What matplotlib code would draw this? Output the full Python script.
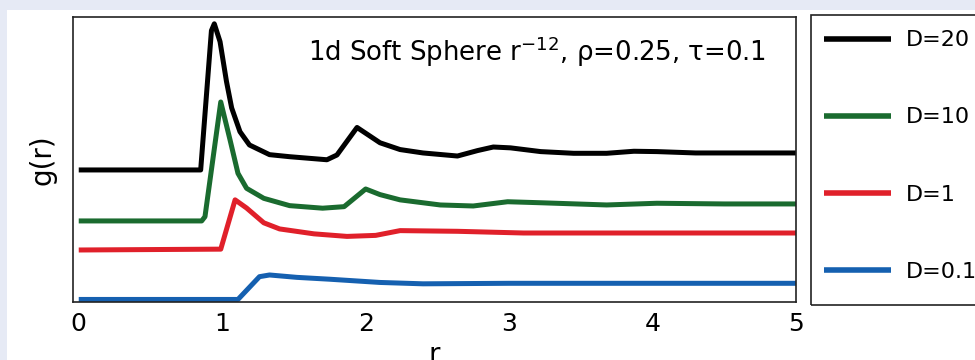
import matplotlib
matplotlib.use("Agg")
import matplotlib.pyplot as plt
import numpy as np

# ---- data ----
labels = ["D=20", "D=10", "D=1", "D=0.1"]
colors = ["#000000", "#1a6b2f", "#e0202a", "#1560b0"]
offsets = [7.62, 4.62, 2.91, 0.0]

black_r = [0, 0.85, 0.925, 0.945, 0.985, 1.03, 1.066, 1.124, 1.19, 1.33, 1.47, 1.73, 1.80, 1.94,
           2.10, 2.24, 2.40, 2.64, 2.78, 2.89, 3.01, 3.22, 3.45, 3.68, 3.87, 4.03, 4.3, 4.6, 5.0]
black_g = [0, 0, 8.2, 8.6, 7.55, 5.2, 3.65, 2.25, 1.47, 0.9, 0.78, 0.6, 0.88, 2.5,
           1.6, 1.2, 1.0, 0.82, 1.14, 1.35, 1.3, 1.08, 0.98, 0.98, 1.1, 1.08, 1.0, 1.0, 1.0]

green_r = [0, 0.857, 0.88, 0.99, 1.055, 1.11, 1.17, 1.29, 1.47, 1.70, 1.85, 2.00, 2.10,
           2.24, 2.52, 2.75, 2.99, 3.22, 3.68, 4.03, 4.5, 5.0]
green_g = [0, 0, 0.25, 7.0, 4.76, 2.8, 1.92, 1.33, 0.9, 0.75, 0.84, 1.88, 1.55,
           1.24, 0.94, 0.88, 1.13, 1.07, 0.94, 1.04, 1.0, 1.0]

red_r = [0, 0.99, 1.09, 1.17, 1.29, 1.40, 1.64, 1.87, 2.07, 2.24, 2.64, 3.10, 4.0, 5.0]
red_g = [0, 0.05, 2.95, 2.47, 1.6, 1.24, 0.95, 0.8, 0.86, 1.14, 1.1, 1.0, 1.0, 1.0]

blue_r = [0, 1.11, 1.26, 1.33, 1.52, 1.75, 2.10, 2.40, 3.0, 4.0, 5.0]
blue_g = [0, 0, 1.34, 1.44, 1.3, 1.19, 1.0, 0.92, 0.95, 0.95, 0.95]

series_r = [black_r, green_r, red_r, blue_r]
series_g = [black_g, green_g, red_g, blue_g]

xticks = [0, 1, 2, 3, 4, 5]
title = "1d Soft Sphere r$^{\\mathregular{-12}}$, ρ=0.25, τ=0.1"

# ---- figure ----
W, H = 975, 360
fig = plt.figure(figsize=(W / 100, H / 100), dpi=100)
fig.patch.set_facecolor("#e6eaf5")
fig.add_artist(plt.Rectangle((7 / W, 0), 1, 1 - 10 / H, transform=fig.transFigure,
                             facecolor="white", edgecolor="none", zorder=0))

ax = fig.add_axes([73 / W, 1 - 302 / H, (796 - 73) / W, (302 - 17) / H])
ax.set_facecolor("white")

lines = []
for r, g, off, c, lab in zip(series_r, series_g, offsets, colors, labels):
    ln, = ax.plot(r, np.array(g) + off, color=c, lw=3.6, label=lab,
                  solid_joinstyle="round", solid_capstyle="butt")
    lines.append(ln)

ax.set_xlim(-0.04, 5.0)
ax.set_ylim(-0.15, 16.62)
ax.set_xticks(xticks)
ax.set_xticklabels([str(t) for t in xticks])
ax.set_yticks([])
ax.tick_params(axis="x", length=0, pad=7, labelsize=18)
for s in ax.spines.values():
    s.set_linewidth(1.2)
    s.set_color("#222222")

ax.set_ylabel("g(r)", fontsize=20, labelpad=12)
ax.set_xlabel("r", fontsize=20, labelpad=4)

ax.text((308 - 73) / (796 - 73), (302 - 52) / (302 - 17), title, transform=ax.transAxes,
        ha="left", va="center", fontsize=18.7)

# legend (frame drawn separately so it can run past the right edge like the reference)
leg = fig.legend(handles=lines, labels=labels, loc="upper left",
                 bbox_to_anchor=(811 / W, 1 - 17 / H), fontsize=16,
                 frameon=False, handlelength=3.0, handletextpad=0.65,
                 labelspacing=2.57, borderpad=0.6, borderaxespad=0)
for lh in leg.get_lines():
    lh.set_linewidth(4)
fig.add_artist(plt.Rectangle((811 / W, 1 - 305 / H), 180 / W, 290 / H,
                             transform=fig.transFigure, facecolor="none",
                             edgecolor="#222222", linewidth=1.2, zorder=5))

fig.savefig("out.png", dpi=100, facecolor=fig.get_facecolor())
